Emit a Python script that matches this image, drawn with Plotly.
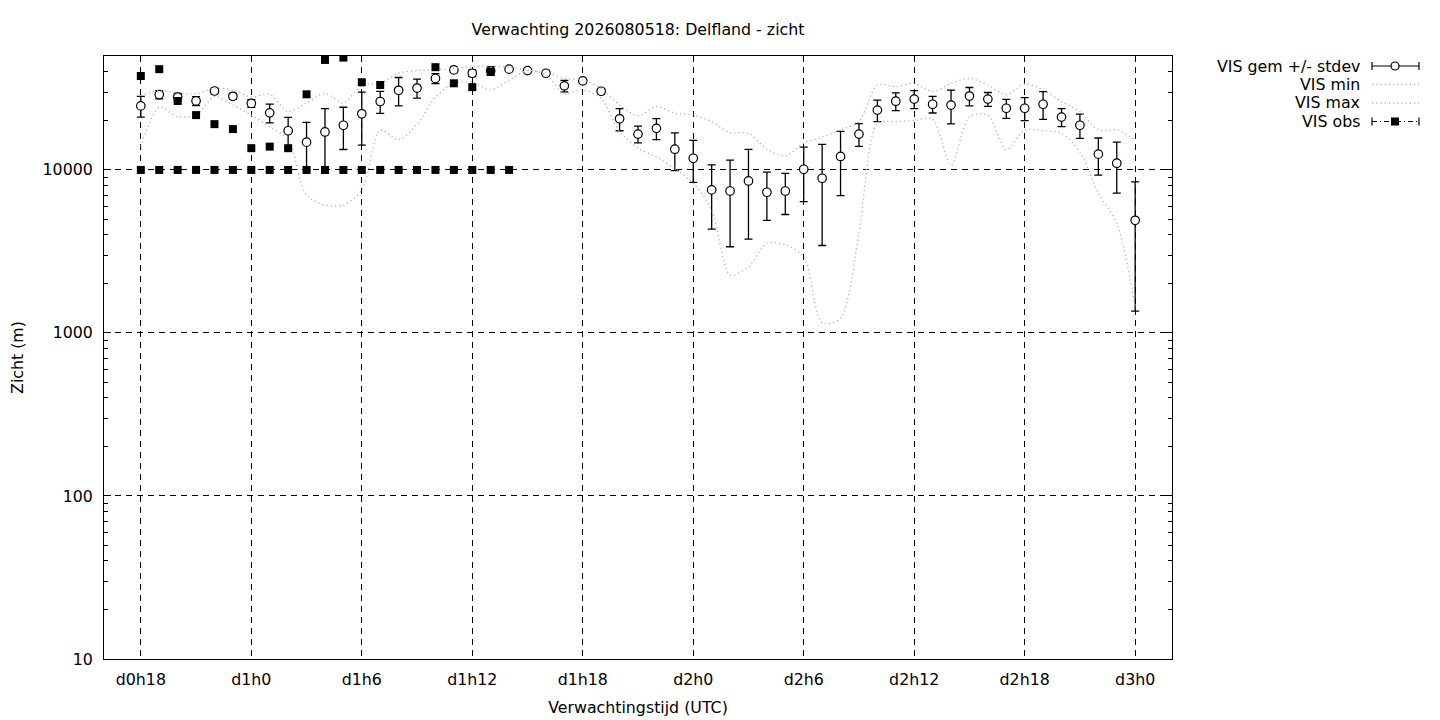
import plotly.graph_objects as go

# ---------------- data ----------------
hours = list(range(18, 73))

vis_mean = [24700, 29000, 28000, 26500, 30500, 28300, 25600, 22400, 17400, 14800,
            17100, 18800, 22100, 26300, 30800, 31800, 36400, 41100, 39200, 40500,
            41500, 40700, 39200, 32800, 35200, 30400, 20600, 16600, 18000, 13400,
            11800, 7540, 7430, 8560, 7300, 7430, 10100, 8890, 12100, 16600,
            23300, 26400, 27200, 25300, 25000, 28400, 27200, 23900, 23900, 25300,
            21100, 18800, 12500, 11000, 4910]

vis_std = [3600, 1700, 1500, 1700, 1150, 1150, 1350, 2950, 3600, 4800,
           6700, 5450, 7900, 4050, 6100, 4250, 2600, 1600, 1850, 2500,
           500, 400, 400, 2650, 700, 1100, 3200, 1950, 2650, 3500,
           3400, 3200, 4050, 4800, 2400, 2100, 3700, 5450, 5150, 2650,
           3500, 3300, 3450, 2950, 5850, 3650, 2650, 3200, 3850, 4900,
           2650, 3200, 3200, 3800, 3550]

vis_min = [13900, 24200, 21200, 21700, 28200, 25000, 21700, 18400, 15300, 7000,
           6100, 6100, 7540, 17600, 15300, 19000, 28000, 34000, 34500, 31000,
           35600, 40700, 38300, 29500, 31000, 27500, 17200, 13600, 12000, 10200,
           8290, 5690, 2270, 2550, 3550, 3470, 2940, 1150, 1230, 4090,
           19300, 19800, 20100, 20500, 10700, 21200, 21700, 13300, 17600, 17400,
           16800, 12900, 7200, 4710, 1450]

vis_max = [28600, 30700, 29500, 29400, 31700, 31000, 28000, 29100, 22800, 25700,
           29500, 25800, 33000, 34000, 39200, 40700, 41100, 42000, 43000, 43400,
           42700, 41100, 39500, 36500, 35600, 31700, 25000, 21500, 24500, 22300,
           21700, 19800, 16900, 16800, 13400, 12200, 14600, 15900, 17600, 19800,
           33200, 32400, 34000, 30200, 34000, 36500, 33200, 28900, 33700, 31000,
           26200, 22800, 17600, 17600, 15300]

obs_hours_a = [18, 19, 20, 21, 22, 23, 24, 25, 26, 27, 28, 29, 30, 31, 34, 35, 36, 37]
obs_vals_a = [37700, 41500, 26500, 21700, 19100, 17800, 13600, 13900, 13600, 29100,
              47300, 48900, 34500, 33200, 42700, 34000, 32200, 40100]

obs_hours_b = [18, 19, 20, 21, 22, 23, 24, 25, 26, 27, 28, 29, 30, 31, 32, 33, 34,
               35, 36, 37, 38]
obs_vals_b = [10000, 10000, 10000, 10000, 10000, 10000, 10000, 10000, 10000, 10000,
              10000, 10000, 10000, 10000, 10000, 10000, 10000, 10000, 10000, 10000,
              10000]

xtick_vals = [18, 24, 30, 36, 42, 48, 54, 60, 66, 72]
xtick_text = ["d0h18", "d1h0", "d1h6", "d1h12", "d1h18", "d2h0", "d2h6", "d2h12",
              "d2h18", "d3h0"]
ytick_vals = [10, 100, 1000, 10000]
ytick_text = ["10", "100", "1000", "10000"]

legend_labels = ["VIS gem +/- stdev", "VIS min", "VIS max", "VIS obs"]
title_text = "Verwachting 2026080518: Delfland - zicht"

# ---------------- styling ----------------
FONT = "DejaVu Sans"
FS = 15.8
GRAY = "rgb(175,175,175)"
DOT = "1.2px,3px"
OFF = 8                     # page body margin of the browser
W, H = 1440 - OFF, 720 - OFF
L, R, T, B = 104 - OFF, 1172 - OFF, 56 - OFF, 659 - OFF

fig = go.Figure()

fig.add_trace(go.Scatter(
    x=hours, y=vis_mean, mode="markers", name=legend_labels[0],
    marker=dict(symbol="circle", size=8.5, color="white", line=dict(color="black", width=1.2)),
    error_y=dict(type="data", array=vis_std, color="black", thickness=1.3, width=4),
))
fig.add_trace(go.Scatter(
    x=hours, y=vis_min, mode="lines", name=legend_labels[1],
    line=dict(color=GRAY, width=1.3, dash=DOT, shape="spline", smoothing=0.8),
))
fig.add_trace(go.Scatter(
    x=hours, y=vis_max, mode="lines", name=legend_labels[2],
    line=dict(color=GRAY, width=1.3, dash=DOT, shape="spline", smoothing=0.8),
))
fig.add_trace(go.Scatter(
    x=obs_hours_a + obs_hours_b, y=obs_vals_a + obs_vals_b, mode="markers",
    name=legend_labels[3],
    marker=dict(symbol="square", size=8, color="black"),
))

# minor log ticks 2..9 per decade
minor_vals = [m * 10 ** d for d in range(1, 5) for m in range(2, 10) if m * 10 ** d < 50000]

fig.update_layout(
    width=W, height=H,
    margin=dict(l=L, r=W - R, t=T, b=H - B, autoexpand=False),
    paper_bgcolor="white", plot_bgcolor="white",
    showlegend=False,
    font=dict(family=FONT, size=FS, color="black"),
    title=dict(text=title_text, x=(L + R) / 2 / W, xanchor="center",
               y=1 - (29 - OFF) / H, yanchor="middle", font=dict(family=FONT, size=FS)),
    xaxis=dict(
        range=[16, 74], tickmode="array", tickvals=xtick_vals, ticktext=xtick_text,
        ticks="", showline=True, linecolor="black", linewidth=1, mirror=True,
        showgrid=True, gridcolor="black", gridwidth=1, griddash="6px,5px",
        zeroline=False, ticklabelstandoff=6, automargin=False,
        title=dict(text="Verwachtingstijd (UTC)", standoff=13, font=dict(size=FS)),
    ),
    yaxis=dict(
        type="log", range=[1, 4.69897], tickmode="array", tickvals=ytick_vals,
        ticktext=ytick_text, ticks="inside", ticklen=7, tickcolor="black",
        showline=True, linecolor="black", linewidth=1, mirror="allticks",
        showgrid=True, gridcolor="black", gridwidth=1, griddash="6px,5px",
        zeroline=False, ticklabelstandoff=7, automargin=False,
        minor=dict(tickmode="array", tickvals=minor_vals, ticks="inside", ticklen=4,
                   tickcolor="black", showgrid=False),
        title=dict(text="Zicht (m)", standoff=17, font=dict(size=FS)),
    ),
)

# ---------------- gnuplot-style key (right, outside) ----------------
def px(xp):
    return (xp - OFF - L) / (R - L)

def py(yp):
    return (B - (yp - OFF)) / (B - T)

rows = [66, 84.5, 103, 121.5]
text_right = 1362
s0, s1, sc = 1372, 1419, 1395
shapes = []
annotations = []
for i, lab in enumerate(legend_labels):
    yy = py(rows[i])
    annotations.append(dict(text=lab, x=px(text_right), y=yy, xref="paper", yref="paper",
                            xanchor="right", yanchor="middle", showarrow=False,
                            font=dict(family=FONT, size=FS)))
    if i in (1, 2):
        shapes.append(dict(type="line", xref="paper", yref="paper", x0=px(s0), x1=px(s1),
                           y0=yy, y1=yy, line=dict(color=GRAY, width=1.3, dash=DOT)))
    else:
        dash = "solid" if i == 0 else "5px,3px,1px,3px"
        shapes.append(dict(type="line", xref="paper", yref="paper", x0=px(s0), x1=px(s1),
                           y0=yy, y1=yy, line=dict(color="black", width=1.2, dash=dash)))
        for xe in (s0, s1):
            shapes.append(dict(type="line", xref="paper", yref="paper", x0=px(xe), x1=px(xe),
                               ysizemode="pixel", yanchor=yy, y0=-4, y1=4,
                               line=dict(color="black", width=1.2)))
        if i == 0:
            shapes.append(dict(type="circle", xref="paper", yref="paper",
                               xsizemode="pixel", ysizemode="pixel",
                               xanchor=px(sc), yanchor=yy, x0=-4, x1=4, y0=-4, y1=4,
                               fillcolor="white", line=dict(color="black", width=1.2)))
        else:
            shapes.append(dict(type="rect", xref="paper", yref="paper",
                               xsizemode="pixel", ysizemode="pixel",
                               xanchor=px(sc), yanchor=yy, x0=-4, x1=4, y0=-4, y1=4,
                               fillcolor="black", line=dict(color="black", width=0)))

fig.update_layout(shapes=shapes, annotations=annotations)

fig.write_html("out.html")
